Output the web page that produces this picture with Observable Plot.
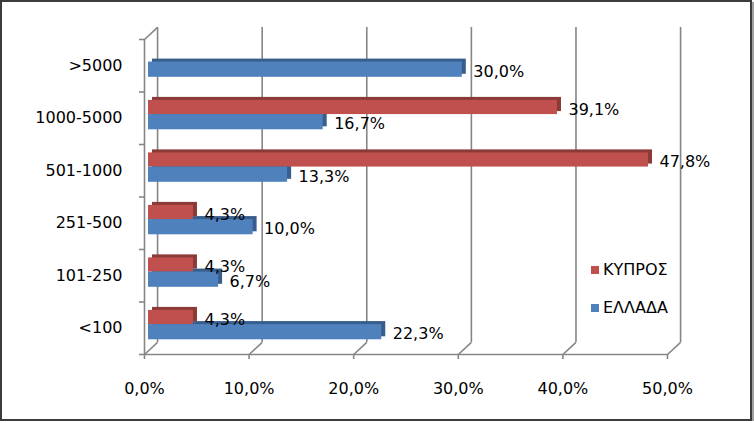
<!DOCTYPE html>
<html>
<head>
<meta charset="utf-8">
<script src="https://cdn.jsdelivr.net/npm/d3@7"></script>
<script src="https://cdn.jsdelivr.net/npm/@observablehq/plot@0.6"></script>
<style>
  html, body { margin: 0; padding: 0; background: #fff; }
  #wrap {
    position: relative;
    width: 748px; height: 417px;
    border: 2px solid #3c3c3c;
    box-shadow: 2px 2px 1px #a0a0a0;
    background: #fff;
    font-family: "DejaVu Sans", sans-serif;
  }
  #wrap svg { display: block; }
  .leg { position: absolute; left: 601px; font-size: 16px; color: #000; line-height: 16px; }
  .leg i { position: absolute; left: -12px; top: 4px; width: 8px; height: 8px; }
</style>
</head>
<body>
<div id="wrap"></div>
<script>
// ---- data (bottom to top, as in the chart's category axis) ----
const categories = ["<100", "101-250", "251-500", "501-1000", "1000-5000", ">5000"];
const seriesNames = ["ΚΥΠΡΟΣ", "ΕΛΛΑΔΑ"];
const kypros = [4.3, 4.3, 4.3, 47.8, 39.1, 0];
const ellada = [22.3, 6.7, 10.0, 13.3, 16.7, 30.0];
const xTicks = [0, 10, 20, 30, 40, 50];

const faceColors = {"ΚΥΠΡΟΣ": "#C0504D", "ΕΛΛΑΔΑ": "#4F81BD"};
const capColors = {"ΚΥΠΡΟΣ": "#8C3A37", "ΕΛΛΑΔΑ": "#385E8E"};

const fmt = v => v.toFixed(1).replace(".", ",") + "%";

// 3-D wall depth in data units
const DX = 1.25, DY = 0.23;

const rows = categories.flatMap((c, i) => [
  {cat: c, i, s: seriesNames[0], v: kypros[i], lo: i + 0.57, hi: i + 0.84},
  {cat: c, i, s: seriesNames[1], v: ellada[i], lo: i + 0.28, hi: i + 0.57}
]);
const bounds = d3.range(categories.length + 1);
const grey = "#868686";

const chart = Plot.plot({
  width: 748,
  height: 417,
  marginLeft: 142,
  marginRight: 83,
  marginTop: 37,
  marginBottom: 65,
  style: {fontFamily: "DejaVu Sans, sans-serif", fontSize: "16px", background: "white", color: "black"},
  x: {domain: [0, 50], axis: null, label: null},
  y: {domain: [0, categories.length], axis: null, label: null},
  marks: [
    // back wall gridlines
    Plot.ruleX(xTicks, {x: d => d + DX, y1: DY, y2: categories.length + DY, stroke: grey, strokeWidth: 1.6}),
    // floor diagonals
    Plot.link(xTicks, {x1: d => d, y1: 0, x2: d => d + DX, y2: DY, stroke: grey, strokeWidth: 1.6}),
    // top-left corner diagonal
    Plot.link([categories.length], {x1: 0, y1: d => d, x2: DX, y2: d => d + DY, stroke: grey, strokeWidth: 1.6}),
    // front axes lines
    Plot.ruleX([0], {y1: 0, y2: categories.length, stroke: grey, strokeWidth: 1.6}),
    Plot.ruleY([0], {x1: 0, x2: 50, stroke: grey, strokeWidth: 1.6}),
    // ticks
    Plot.axisX({ticks: xTicks, tickSize: 5, tickPadding: 23, tickFormat: fmt, label: null, stroke: grey, color: grey, strokeWidth: 1.6, fill: "black", fontSize: 16}),
    Plot.axisY({ticks: bounds, tickSize: 5, tickFormat: () => "", label: null, color: grey, strokeWidth: 1.6}),
    Plot.axisY({ticks: bounds.slice(0, -1).map(b => b + 0.5), tickSize: 0, tickPadding: 22, label: null, tickFormat: t => categories[Math.floor(t)], color: "black", fontSize: 16}),
    // bars: depth (cap) then face
    Plot.rect(rows.filter(d => d.v > 0), {x1: 0, x2: "v", y1: "lo", y2: "hi", dx: 8, dy: -3, fill: d => capColors[d.s]}),
    Plot.rect(rows.filter(d => d.v > 0), {x1: 0, x2: "v", y1: "lo", y2: "hi", dx: 4, fill: d => faceColors[d.s]}),
    // value labels
    Plot.text(rows.filter(d => d.v > 0), {x: "v", y: d => (d.lo + d.hi) / 2, dx: 15, dy: 2, text: d => fmt(d.v), textAnchor: "start", fill: "black", fontSize: 16})
  ]
});

const wrap = document.getElementById("wrap");
wrap.appendChild(chart);

// legend (inside the plot area, on the right)
[["ΚΥΠΡΟΣ", 260], ["ΕΛΛΑΔΑ", 298]].forEach(([name, top]) => {
  const el = document.createElement("div");
  el.className = "leg";
  el.style.top = top + "px";
  el.innerHTML = `<i style="background:${faceColors[name]}"></i>${name}`;
  wrap.appendChild(el);
});
</script>
</body>
</html>
